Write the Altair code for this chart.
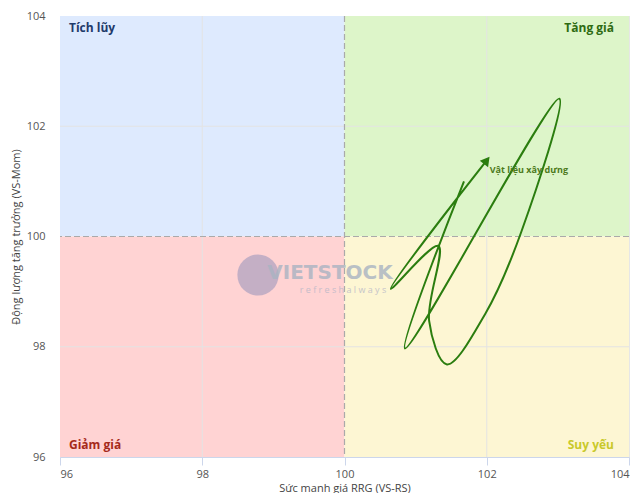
import altair as alt
import pandas as pd

# Quadrant backgrounds
quad_names = ["Tích lũy", "Tăng giá", "Giảm giá", "Suy yếu"]
quad_x1 = [96, 100, 96, 100]
quad_x2 = [100, 104, 100, 104]
quad_y1 = [100, 100, 96, 96]
quad_y2 = [104, 104, 100, 100]
quad_fill = ["#deeafe", "#ddf5c9", "#ffd3d3", "#fdf6d3"]
quad_text_color = ["#1f3a6b", "#2e6b12", "#a52a1a", "#c9c92a"]

# RRG tail (time order, last point = arrow head)
rs_vals = [101.68, 100.85, 103.02, 102.49, 101.98, 101.44, 101.19, 101.32, 100.65, 102.00]
mom_vals = [101.00, 97.97, 102.50, 100.10, 98.60, 97.68, 98.47, 99.83, 99.05, 101.38]
series_name = "Vật liệu xây dựng"

x_ticks = [96, 98, 100, 102, 104]
y_ticks = [96, 98, 100, 102, 104]

quad = pd.DataFrame({"name": quad_names, "x1": quad_x1, "x2": quad_x2,
                     "y1": quad_y1, "y2": quad_y2, "fill": quad_fill,
                     "tc": quad_text_color})
tail = pd.DataFrame({"rs": rs_vals, "mom": mom_vals, "i": list(range(len(rs_vals)))})
head = tail.iloc[[-1]].assign(label=series_name)

xs = alt.Scale(domain=[96, 104], nice=False, zero=False)
ys = alt.Scale(domain=[96, 104], nice=False, zero=False)

xaxis = alt.Axis(values=x_ticks, format="d", title="Sức mạnh giá RRG (VS-RS)", grid=True,
                 gridColor="#e6e6e6", domain=True, domainColor="#ccd6eb",
                 tickColor="#ccd6eb", tickSize=8, labelColor="#555",
                 labelFontSize=11, titleFontSize=11, titleColor="#444",
                 titleFontWeight="normal", labelPadding=3, titlePadding=3)
yaxis = alt.Axis(values=y_ticks, format="d", title="Động lượng tăng trưởng (VS-Mom)", grid=True,
                 gridColor="#e6e6e6", domain=False, ticks=False, labelColor="#555",
                 labelFontSize=11, titleFontSize=11, titleColor="#444",
                 titleFontWeight="normal", labelPadding=15, titlePadding=5)

rects = alt.Chart(quad).mark_rect().encode(
    x=alt.X("x1:Q", scale=xs, axis=xaxis),
    x2="x2:Q",
    y=alt.Y("y1:Q", scale=ys, axis=yaxis),
    y2="y2:Q",
    color=alt.Color("fill:N", scale=None),
)

grid_x = alt.Chart(pd.DataFrame({"v": x_ticks[1:4:2]})).mark_rule(color="#e3e3e3", strokeWidth=1).encode(
    x=alt.X("v:Q", scale=xs))
grid_y = alt.Chart(pd.DataFrame({"v": y_ticks[1:4:2]})).mark_rule(color="#e3e3e3", strokeWidth=1).encode(
    y=alt.Y("v:Q", scale=ys))

mid = pd.DataFrame({"v": [100]})
vdash = alt.Chart(mid).mark_rule(color="#aaaaaa", strokeDash=[6, 3], strokeWidth=1.2).encode(
    x=alt.X("v:Q", scale=xs))
hdash = alt.Chart(mid).mark_rule(color="#aaaaaa", strokeDash=[6, 3], strokeWidth=1.2).encode(
    y=alt.Y("v:Q", scale=ys))

tl = quad.iloc[[0]]
tr = quad.iloc[[1]]
bl = quad.iloc[[2]]
br = quad.iloc[[3]]
lab_l_top = alt.Chart(tl).mark_text(align="left", baseline="top", dx=9, dy=7, fontSize=12,
                                    fontWeight="bold", font="Open Sans").encode(
    x=alt.X("x1:Q", scale=xs), y=alt.Y("y2:Q", scale=ys), text="name:N",
    color=alt.Color("tc:N", scale=None))
lab_r_top = alt.Chart(tr).mark_text(align="right", baseline="top", dx=-15, dy=7, fontSize=12,
                                    fontWeight="bold", font="Open Sans").encode(
    x=alt.X("x2:Q", scale=xs), y=alt.Y("y2:Q", scale=ys), text="name:N",
    color=alt.Color("tc:N", scale=None))
lab_l_bot = alt.Chart(bl).mark_text(align="left", baseline="bottom", dx=9, dy=-5, fontSize=12,
                                    fontWeight="bold", font="Open Sans").encode(
    x=alt.X("x1:Q", scale=xs), y=alt.Y("y1:Q", scale=ys), text="name:N",
    color=alt.Color("tc:N", scale=None))
lab_r_bot = alt.Chart(br).mark_text(align="right", baseline="bottom", dx=-15, dy=-5, fontSize=12,
                                    fontWeight="bold", font="Open Sans").encode(
    x=alt.X("x2:Q", scale=xs), y=alt.Y("y1:Q", scale=ys), text="name:N",
    color=alt.Color("tc:N", scale=None))

# watermark
wm_circle = alt.Chart(pd.DataFrame({"a": [0]})).mark_point(
    shape="circle", filled=True, size=1700, color="#9d98bd", opacity=0.6).encode(
    x=alt.value(198), y=alt.value(259))
wm_text = alt.Chart(pd.DataFrame({"t": ["VIETSTOCK"]})).mark_text(
    fontSize=20, fontWeight="bold", color="#a9b3c2", opacity=0.8, font="DejaVu Sans").encode(
    x=alt.value(270), y=alt.value(257), text="t:N")
wm_sub = alt.Chart(pd.DataFrame({"t": ["r e f r e s h   a l w a y s"]})).mark_text(
    fontSize=9, color="#b8b8c8", opacity=0.8).encode(
    x=alt.value(283), y=alt.value(274), text="t:N")

line = alt.Chart(tail).mark_line(color="#2b7d0f", strokeWidth=2, interpolate="catmull-rom").encode(
    x=alt.X("rs:Q", scale=xs), y=alt.Y("mom:Q", scale=ys), order="i:Q")

arrow = alt.Chart(head).mark_point(shape="triangle-up", filled=True, size=110, color="#2b7d0f",
                                   angle=38, opacity=1).encode(
    x=alt.X("rs:Q", scale=xs), y=alt.Y("mom:Q", scale=ys))

label = alt.Chart(head).mark_text(align="left", baseline="middle", dx=3, dy=10, fontSize=9,
                                  fontWeight="bold", color="#4d7a1c", font="Open Sans").encode(
    x=alt.X("rs:Q", scale=xs), y=alt.Y("mom:Q", scale=ys), text="label:N")

chart = alt.layer(rects, grid_x, grid_y, vdash, hdash, lab_l_top, lab_r_top, lab_l_bot, lab_r_bot,
                  wm_circle, wm_text, wm_sub, line, arrow, label).properties(
    width=569, height=441,
    autosize=alt.AutoSizeParams(type="none"),
    padding={"left": 52, "top": 8, "right": 2, "bottom": 36},
).configure_view(stroke=None).configure(font="Open Sans")

chart.save("out.html", embed_options={"renderer": "svg", "actions": False})
